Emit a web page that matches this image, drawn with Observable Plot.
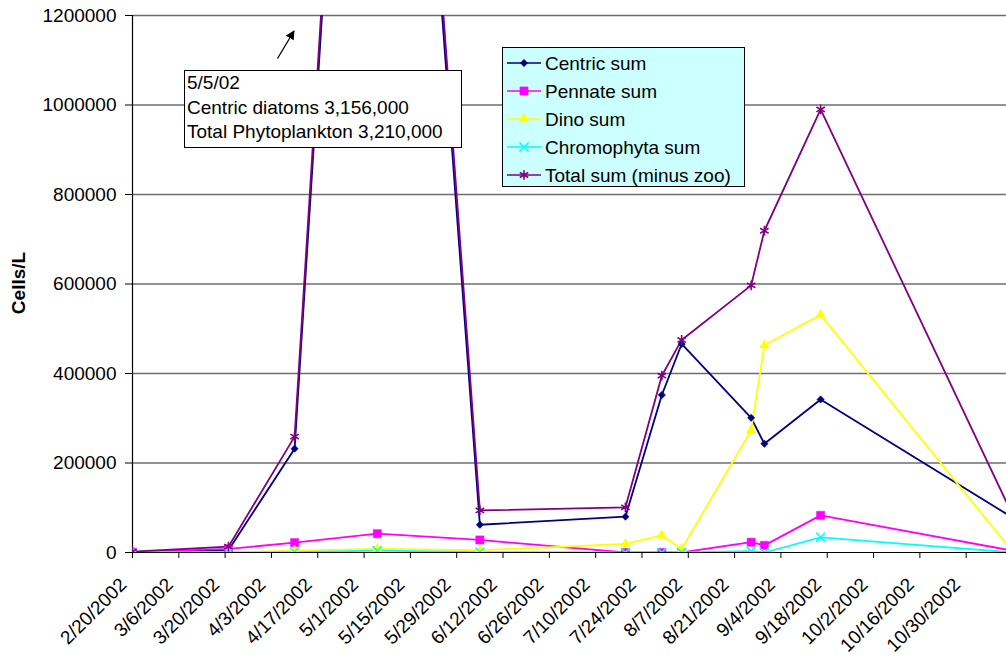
<!DOCTYPE html>
<html><head><meta charset="utf-8">
<script src="https://cdn.jsdelivr.net/npm/d3@7"></script>
<script src="https://cdn.jsdelivr.net/npm/@observablehq/plot@0.6"></script>
<style>
html,body{margin:0;padding:0;background:#fff;overflow:hidden;}
#chart{position:relative;width:1006px;height:656px;overflow:hidden;}
#chart svg{max-width:none !important;}
</style></head><body><div id="chart"></div>
<script>
// ---- data ----
const dates = ["2002-02-20","2002-03-21","2002-04-10","2002-05-05","2002-06-05","2002-07-19","2002-07-30","2002-08-05","2002-08-26","2002-08-30","2002-09-16","2002-11-13"];
const centricSum = [1000, 5000, 232000, 3156000, 62000, 80000, 352000, 466000, 301000, 243000, 342000, 78000];
const pennateSum = [1000, 8000, 22000, 42000, 28000, 0, 0, 0, 23000, 16000, 83000, 4000];
const dinoSum = [0, 0, 4000, 8000, 5000, 19000, 38000, 8000, 273000, 463000, 531000, 2000];
const chromophytaSum = [0, 0, 1000, 4000, 1000, 0, 0, 0, 3000, 0, 34000, 0];
const totalSum = [2000, 13000, 259000, 3210000, 94000, 101000, 395000, 475000, 597000, 719000, 990000, 84000];
const seriesNames = ["Centric sum","Pennate sum","Dino sum","Chromophyta sum","Total sum (minus zoo)"];
const seriesColors = ["#000080","#FF00FF","#FFFF00","#00FFFF","#800080"];
const seriesSymbols = ["diamond2","square","triangle","times","asterisk"];
const yTicks = [0, 200000, 400000, 600000, 800000, 1000000, 1200000];
const xTicks = ["2002-02-20","2002-03-06","2002-03-20","2002-04-03","2002-04-17","2002-05-01","2002-05-15","2002-05-29","2002-06-12","2002-06-26","2002-07-10","2002-07-24","2002-08-07","2002-08-21","2002-09-04","2002-09-18","2002-10-02","2002-10-16","2002-10-30"];
const xDomain = ["2002-02-20","2002-11-13"];
const noteLines = ["5/5/02","Centric diatoms 3,156,000","Total Phytoplankton 3,210,000"];
const yLabel = "Cells/L";

// ---- build ----
const parse = d3.utcParse("%Y-%m-%d");
const seriesValues = [centricSum, pennateSum, dinoSum, chromophytaSum, totalSum];
const rows = [];
seriesValues.forEach((vals, i) => vals.forEach((v, j) => rows.push({series: seriesNames[i], date: parse(dates[j]), value: v})));

const symSize = {diamond2: 3.3, square: 4.6, triangle: 3.6, times: 4.2, asterisk: 4.6};
const filledSyms = ["diamond2","square","triangle"];
const fontFamily = "'Liberation Sans', Arial, sans-serif";
const xTickDates = xTicks.map(parse);

const marks = [
  Plot.ruleY(yTicks.slice(1), {stroke: "#6e6e6e", strokeWidth: 1.3}),
  Plot.axisY({ticks: yTicks, tickFormat: d => String(d), tickSize: 7, tickPadding: 9, label: null, stroke: "#000"}),
  Plot.axisX({ticks: xTickDates, tickFormat: null, text: null, tickSize: 6, label: null, stroke: "#000"}),
  Plot.axisX({ticks: xTickDates, tickFormat: d3.utcFormat("%-m/%-d/%Y"), tickSize: 0, tickRotate: -45, tickPadding: 29, dx: -9, label: null, fontSize: 19}),
  Plot.ruleX([parse(xDomain[0])], {stroke: "#000", strokeWidth: 1.2}),
  Plot.ruleY([0], {stroke: "#000", strokeWidth: 1.2}),
];
seriesNames.forEach((name, i) => {
  const data = rows.filter(r => r.series === name);
  marks.push(Plot.line(data, {x: "date", y: "value", stroke: seriesColors[i], strokeWidth: 1.8, clip: true}));
});
seriesNames.forEach((name, i) => {
  const data = rows.filter(r => r.series === name);
  const filled = filledSyms.includes(seriesSymbols[i]);
  marks.push(Plot.dot(data, {x: "date", y: "value", symbol: () => seriesSymbols[i], r: symSize[seriesSymbols[i]],
    fill: filled ? seriesColors[i] : "none", stroke: seriesColors[i], strokeWidth: filled ? 0.5 : 1.6, clip: true}));
});

const chart = Plot.plot({
  width: 1013, height: 656,
  marginLeft: 132, marginRight: 1, marginTop: 15, marginBottom: 104,
  style: {fontFamily, fontSize: "19px", color: "#000", background: "#fff", overflow: "visible", maxWidth: "none"},
  x: {type: "utc", domain: xDomain.map(parse)},
  y: {domain: [0, 1200000]},
  marks
});
document.getElementById("chart").appendChild(chart);

// ---- annotations, axis title, legend ----
const svg = d3.select(chart);
svg.append("text").text(yLabel)
  .attr("transform", "translate(25,283) rotate(-90)")
  .attr("text-anchor", "middle").attr("font-weight", "bold")
  .attr("font-size", 19).attr("font-family", fontFamily).attr("fill", "#000");

const note = svg.append("g");
note.append("rect").attr("x", 184.5).attr("y", 70.5).attr("width", 277).attr("height", 77)
  .attr("fill", "#fff").attr("stroke", "#000").attr("stroke-width", 1);
noteLines.forEach((t, i) => note.append("text").text(t).attr("x", 187).attr("y", 89 + i * 24.6)
  .attr("text-anchor", "start")
  .attr("font-size", 19).attr("font-family", fontFamily).attr("fill", "#000"));
svg.append("defs").html('<marker id="ah" viewBox="0 0 10 10" refX="9" refY="5" markerWidth="7" markerHeight="7" orient="auto"><path d="M0,0L10,5L0,10z" fill="#000"/></marker>');
svg.append("line").attr("x1", 277.5).attr("y1", 58.5).attr("x2", 294).attr("y2", 31)
  .attr("stroke", "#000").attr("stroke-width", 1.3).attr("marker-end", "url(#ah)");

const leg = svg.append("g");
leg.append("rect").attr("x", 502.5).attr("y", 47.5).attr("width", 242).attr("height", 139)
  .attr("fill", "#CCFFFF").attr("stroke", "#000").attr("stroke-width", 1);
const symMap = {diamond2: d3.symbolDiamond2, square: d3.symbolSquare, triangle: d3.symbolTriangle, times: d3.symbolTimes, asterisk: d3.symbolAsterisk};
seriesNames.forEach((name, i) => {
  const y = 63 + i * 28;
  leg.append("line").attr("x1", 507).attr("x2", 541).attr("y1", y).attr("y2", y)
    .attr("stroke", seriesColors[i]).attr("stroke-width", 1.7);
  const s = seriesSymbols[i];
  const filled = filledSyms.includes(s);
  const r = symSize[s];
  leg.append("path").attr("transform", `translate(524,${y})`)
    .attr("d", d3.symbol(symMap[s], Math.PI * r * r)())
    .attr("fill", filled ? seriesColors[i] : "none").attr("stroke", seriesColors[i])
    .attr("stroke-width", filled ? 0.5 : 1.6);
  leg.append("text").text(name).attr("x", 545).attr("y", y).attr("dy", "0.35em")
    .attr("text-anchor", "start")
    .attr("font-size", 19).attr("font-family", fontFamily).attr("fill", "#000");
});
</script></body></html>
